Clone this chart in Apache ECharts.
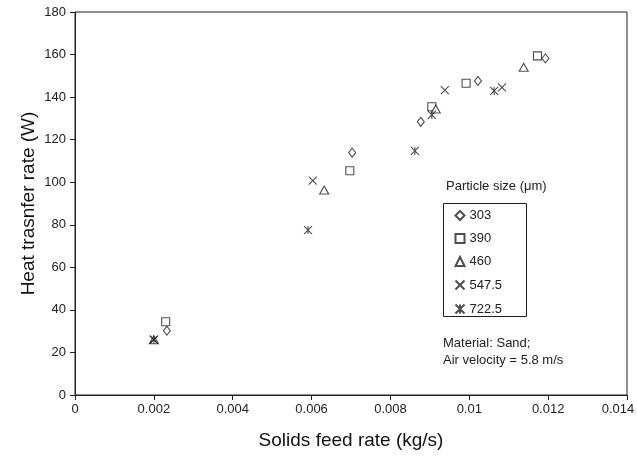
<!DOCTYPE html>
<html><head><meta charset="utf-8">
<script src="https://cdn.jsdelivr.net/npm/echarts@6/dist/echarts.min.js"></script>
<style>html,body{margin:0;padding:0;background:#fff}#c{width:637px;height:456px}</style>
</head><body><div id="c"></div>
<script>
var seriesNames = ['303', '390', '460', '547.5', '722.5'];
var s303 = [[0.00233,30.2],[0.00703,113.9],[0.00877,128.4],[0.01022,147.6],[0.01193,158.2]];
var s390 = [[0.0023,34.4],[0.00697,105.4],[0.00905,135.5],[0.00992,146.5],[0.01173,159.4]];
var s460 = [[0.002,26],[0.00632,96.3],[0.00915,134.4],[0.01138,154.0]];
var s5475 = [[0.002,26],[0.00603,100.7],[0.00938,143.3],[0.01083,144.6]];
var s7225 = [[0.002,26],[0.00591,77.5],[0.00862,114.7],[0.00905,131.6],[0.01063,142.9]];
var xTicks = ['0','0.002','0.004','0.006','0.008','0.01','0.012','0.014'];
var yTicks = ['0','20','40','60','80','100','120','140','160','180'];

var F = 'Liberation Sans, Arial, sans-serif';
var symX = 'path://M0,0L10,10M10,0L0,10';
var symAst = 'path://M0,0L10,10M10,0L0,10M5,0L5,10';
var hollow = {color:'#fff', borderColor:'#222', borderWidth:1.1};
var stroke = {color:'none', borderColor:'#222', borderWidth:1.1};
function mk(name, data, symbol, size, style){
  return {name:name, type:'scatter', data:data, symbol:symbol, symbolSize:size,
    itemStyle:style, emphasis:{disabled:true}};
}
var chart = echarts.init(document.getElementById('c'), null, {renderer:'canvas'});
chart.setOption({
  animation:false,
  backgroundColor:'#fff',
  grid:{left:75, right:10, top:12, bottom:61, show:true, borderColor:'#222', borderWidth:1,
    outerBoundsMode:'none', containLabel:false},
  xAxis:{type:'value', min:0, max:0.014, interval:0.002,
    name:'Solids feed rate (kg/s)', nameLocation:'middle', nameGap:36, nameMoveOverlap:false,
    nameTextStyle:{fontFamily:F, fontSize:19, color:'#111'},
    axisLine:{lineStyle:{color:'#222'}},
    axisTick:{show:true, length:5, lineStyle:{color:'#222'}},
    axisLabel:{fontFamily:F, fontSize:13, color:'#222', margin:8,
      formatter:function(v){var i=Math.round(v/0.002);var t=xTicks[i]||'';
        return i===xTicks.length-1 ? t+'\u00a0\u00a0\u00a0\u00a0\u00a0' : t;}},
    splitLine:{show:false}},
  yAxis:{type:'value', min:0, max:180, interval:20,
    name:'Heat trasnfer rate (W)', nameLocation:'middle', nameGap:37, nameRotate:90, nameMoveOverlap:false,
    nameTextStyle:{fontFamily:F, fontSize:19, color:'#111'},
    axisLine:{lineStyle:{color:'#222'}},
    axisTick:{show:true, length:5, lineStyle:{color:'#222'}},
    axisLabel:{fontFamily:F, fontSize:13, color:'#222', margin:9,
      formatter:function(v){var i=Math.round(v/20);return yTicks[i]||'';}},
    splitLine:{show:false}},
  legend:{orient:'vertical', left:453, top:209, itemGap:10, itemWidth:9, itemHeight:9, padding:0,
    data:seriesNames, textStyle:{fontFamily:F, fontSize:13, color:'#222'}, selectedMode:false},
  graphic:[
    {type:'rect', shape:{x:443.5, y:203.5, width:83, height:113}, style:{fill:'none', stroke:'#222', lineWidth:1}, z:10},
    {type:'text', left:446, top:180, style:{text:'Particle size (μm)', font:'13px '+F, fill:'#222'}},
    {type:'text', left:443, top:335, style:{text:'Material: Sand;\nAir velocity = 5.8 m/s', font:'13px '+F, fill:'#222', lineHeight:17}}
  ],
  series:[
    mk(seriesNames[0], s303, 'diamond', [7,9], hollow),
    mk(seriesNames[1], s390, 'rect', 8, hollow),
    mk(seriesNames[2], s460, 'triangle', [9,8], hollow),
    mk(seriesNames[3], s5475, symX, 8, stroke),
    mk(seriesNames[4], s7225, symAst, 8, stroke)
  ]
});
</script></body></html>
